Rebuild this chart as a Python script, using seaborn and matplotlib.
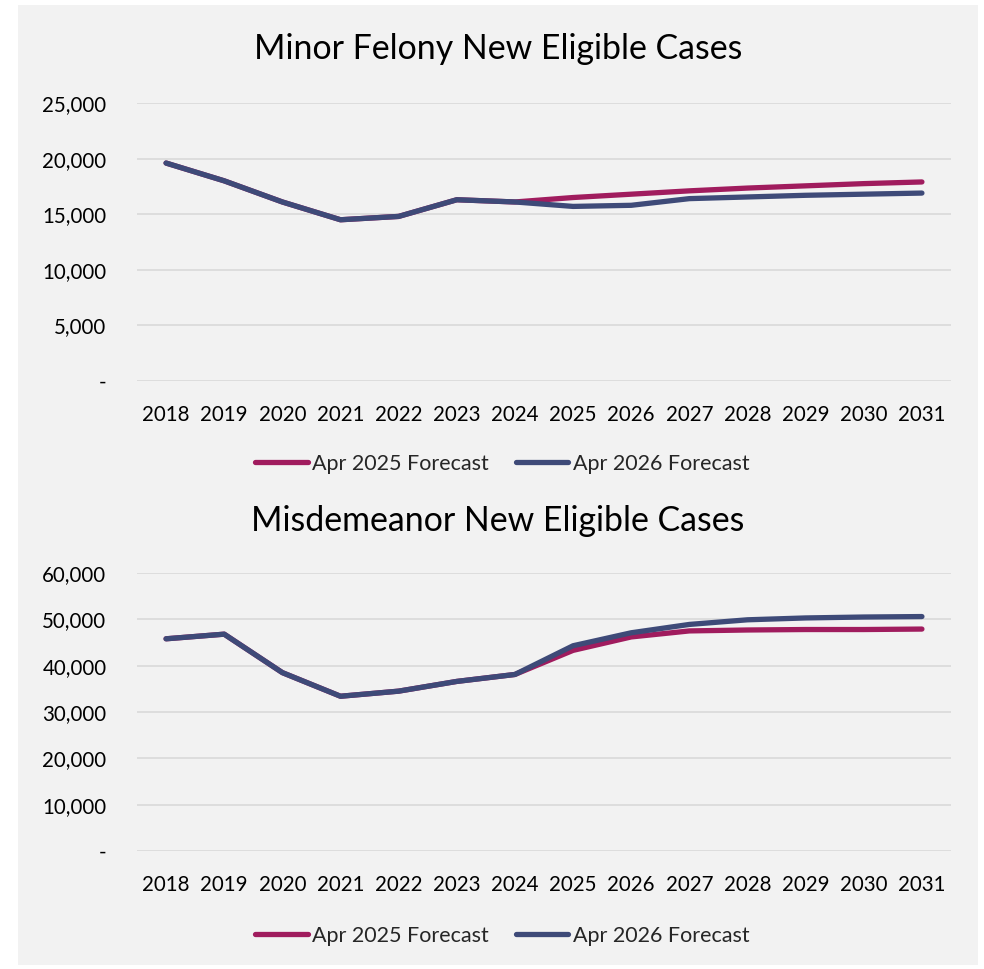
import matplotlib
matplotlib.use("Agg")
import matplotlib.pyplot as plt
import matplotlib.ticker as mticker
from matplotlib.patches import Rectangle
import seaborn as sns
import pandas as pd

years = list(range(2018, 2032))
felony_apr2025 = [19600, 18000, 16100, 14500, 14800, 16300, 16100, 16500, 16800, 17100, 17350, 17550, 17750, 17900]
felony_apr2026 = [19600, 18000, 16100, 14500, 14800, 16300, 16100, 15700, 15800, 16400, 16550, 16700, 16800, 16900]
misd_apr2025 = [45800, 46800, 38500, 33400, 34500, 36600, 38100, 43300, 46200, 47500, 47700, 47800, 47800, 47900]
misd_apr2026 = [45800, 46800, 38500, 33400, 34500, 36600, 38100, 44300, 47100, 48900, 49900, 50300, 50500, 50600]
series_names = ["Apr 2025 Forecast", "Apr 2026 Forecast"]
titles = ["Minor Felony New Eligible Cases", "Misdemeanor New Eligible Cases"]
colors = ["#A01C5E", "#3E4A78"]

sns.set_theme(style="white")
plt.rcParams["font.family"] = ["Lato", "DejaVu Sans"]

W, H = 984, 969
fig = plt.figure(figsize=(W / 100, H / 100), dpi=100)
fig.patch.set_facecolor("white")
fig.patches.append(Rectangle((18 / W, 1 - 965 / H), (978 - 18) / W, (965 - 5) / H,
                             transform=fig.transFigure, facecolor="#F2F2F2",
                             edgecolor="none", zorder=-10))

def make_df(a, b):
    return pd.DataFrame({
        "pos": list(range(len(years))) * 2,
        "value": a + b,
        "series": [series_names[0]] * len(a) + [series_names[1]] * len(b),
    })

panels = [
    (make_df(felony_apr2025, felony_apr2026), 25000, 5000, 381, 49, 464),
    (make_df(misd_apr2025, misd_apr2026), 60000, 10000, 851, 521, 936),
]

for i, (df, ymax, step, ybot, ytitle, yleg) in enumerate(panels):
    ax = fig.add_axes([137 / W, 1 - ybot / H, 814 / W, 278 / H])
    ax.set_facecolor("none")
    sns.lineplot(data=df, x="pos", y="value", hue="series", palette=colors,
                 hue_order=series_names, linewidth=3.8, ax=ax, legend=False,
                 solid_capstyle="round", solid_joinstyle="round")
    ax.set_xlim(-0.5, len(years) - 0.5)
    ax.set_ylim(0, ymax)
    ax.set_yticks(range(0, ymax + 1, step))
    ax.yaxis.set_major_formatter(mticker.FuncFormatter(
        lambda v, p: "-" if v == 0 else f"{int(v):,}"))
    ax.set_xticks(range(len(years)))
    ax.set_xticklabels([str(y) for y in years])
    ax.grid(axis="y", color="#D9D9D9", linewidth=1.2, zorder=0)
    ax.set_axisbelow(True)
    for s in ax.spines.values():
        s.set_visible(False)
    ax.tick_params(axis="both", length=0, labelsize=14.8, colors="black")
    ax.tick_params(axis="y", pad=22)
    ax.tick_params(axis="x", pad=17)
    ax.set_xlabel("")
    ax.set_ylabel("")
    fig.text(498 / W, 1 - ytitle / H, titles[i], ha="center", va="center",
             fontsize=24.4, color="black")
    handles = [plt.Line2D([], [], color=c, linewidth=3.8, solid_capstyle="round") for c in colors]
    fig.legend(handles, series_names, loc="center", bbox_to_anchor=(502 / W, 1 - yleg / H),
               ncol=2, frameon=False, fontsize=15.5, handlelength=2.45,
               handletextpad=0.2, columnspacing=1.25)

fig.savefig("out.png", dpi=100, facecolor="white")
